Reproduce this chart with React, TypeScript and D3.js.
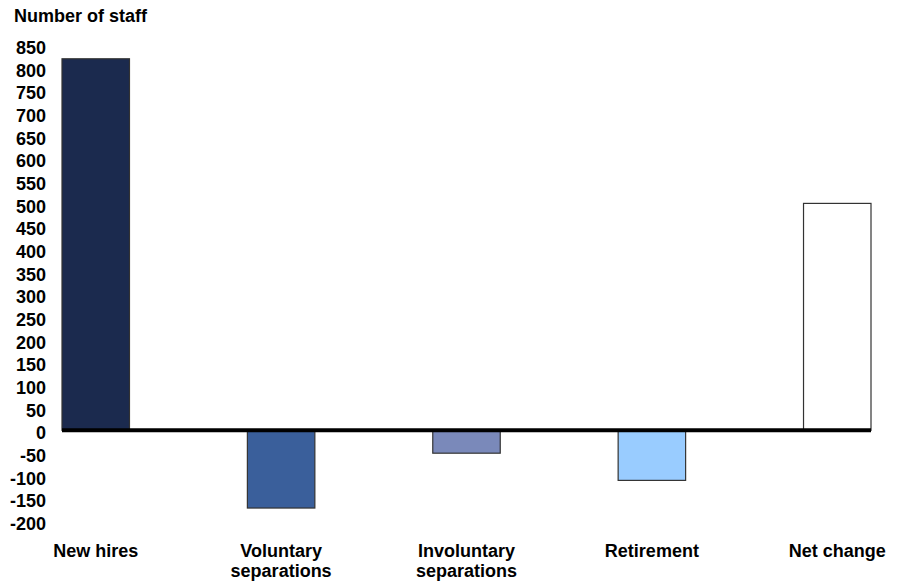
import React from "react";
import * as d3 from "d3";

const categories: string[][] = [
  ["New hires"],
  ["Voluntary", "separations"],
  ["Involuntary", "separations"],
  ["Retirement"],
  ["Net change"],
];
const values: number[] = [824, -167, -46, -106, 505];
const colors: string[] = ["#1b2a4e", "#3a5f9b", "#7a89ba", "#99ccff", "#ffffff"];
const yTicks: number[] = d3.range(-200, 851, 50);

const W = 897;
const H = 583;

export default function App() {
  const x = d3
    .scaleBand<number>()
    .domain(values.map((_, i) => i))
    .range([62, 871])
    .paddingInner(0.636)
    .paddingOuter(0);
  const y = d3.scaleLinear().domain([-200, 850]).range([523, 47]);
  const font = "'Liberation Sans', Arial, sans-serif";

  return (
    <svg
      width={W}
      height={H}
      style={{ position: "absolute", left: 0, top: 0, background: "#fff" }}
      fontFamily={font}
    >
      <text x={14} y={22} fontSize={18} fontWeight="bold" fill="#000">
        Number of staff
      </text>
      {yTicks.map((t) => (
        <text
          key={t}
          x={46}
          y={y(t) + 1}
          fontSize={18}
          fontWeight="bold"
          textAnchor="end"
          dominantBaseline="central"
          fill="#000"
        >
          {t}
        </text>
      ))}
      {values.map((v, i) => {
        const y0 = y(0) - 2;
        const yv = y(v);
        return (
          <rect
            key={i}
            x={x(i)!}
            y={Math.min(y0, yv)}
            width={x.bandwidth()}
            height={Math.abs(yv - y0)}
            fill={colors[i]}
            stroke="#333"
            strokeWidth={1.2}
          />
        );
      })}
      <line
        x1={62}
        x2={871}
        y1={y(0) - 2}
        y2={y(0) - 2}
        stroke="#000"
        strokeWidth={4}
      />
      {categories.map((lines, i) => (
        <text
          key={i}
          x={x(i)! + x.bandwidth() / 2}
          y={557}
          fontSize={18}
          fontWeight="bold"
          textAnchor="middle"
          fill="#000"
        >
          {lines.map((l, j) => (
            <tspan key={j} x={x(i)! + x.bandwidth() / 2} dy={j === 0 ? 0 : 20}>
              {l}
            </tspan>
          ))}
        </text>
      ))}
    </svg>
  );
}
